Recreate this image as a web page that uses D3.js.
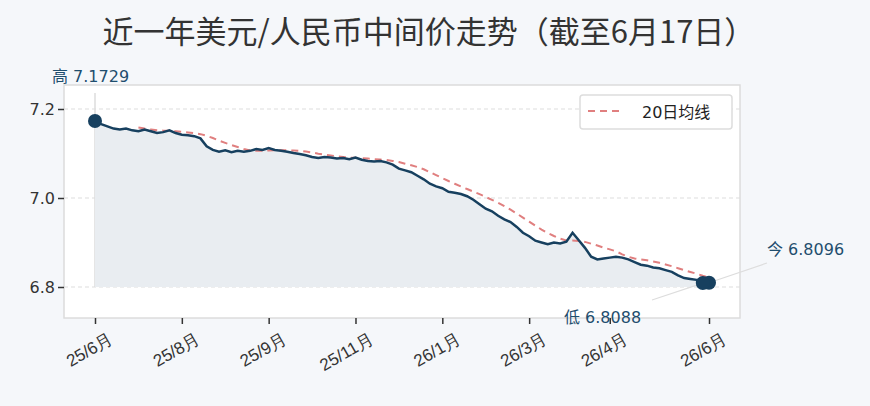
<!DOCTYPE html><html><head><meta charset="utf-8"><script src="https://cdn.jsdelivr.net/npm/d3@7"></script>
<style>body{margin:0;background:#f5f7fa;font-family:"DejaVu Sans","Noto Sans CJK SC",sans-serif}</style></head><body><svg id="c" width="870" height="406"></svg>
<script>
const rates=[7.1729,7.166,7.161,7.156,7.154,7.156,7.152,7.150,7.154,7.150,7.146,7.148,7.152,7.146,7.142,7.141,7.139,7.134,7.116,7.108,7.104,7.107,7.103,7.106,7.104,7.106,7.110,7.108,7.112,7.108,7.106,7.104,7.101,7.099,7.096,7.092,7.090,7.092,7.091,7.089,7.090,7.087,7.091,7.086,7.083,7.082,7.083,7.080,7.075,7.066,7.062,7.058,7.050,7.042,7.032,7.026,7.022,7.014,7.012,7.009,7.004,6.996,6.986,6.976,6.970,6.960,6.952,6.946,6.935,6.922,6.914,6.904,6.900,6.896,6.900,6.898,6.902,6.922,6.905,6.888,6.868,6.862,6.864,6.866,6.868,6.866,6.862,6.856,6.850,6.848,6.844,6.842,6.838,6.834,6.826,6.820,6.818,6.816,6.8088,6.8096];
const tickIdx=[0,14,28,42,56,70,83,99];
const tickLabels=["25/6月","25/8月","25/9月","25/11月","26/1月","26/3月","26/4月","26/6月"];
const yTicks=[6.8,7.0,7.2];
const win=8;
const svg=d3.select("#c");
const L=64,R=740,T=85,B=318;
const x=d3.scaleLinear().domain([0,rates.length-1]).range([95,709]);
const y=d3.scaleLinear().domain([6.8,7.2]).range([287,109]);
svg.append("text").attr("x",429).attr("y",43).attr("text-anchor","middle").attr("font-size",31).attr("fill","#333").attr("font-family","Noto Sans CJK SC").text("近一年美元/人民币中间价走势（截至6月17日）");
svg.append("rect").attr("x",L).attr("y",T).attr("width",R-L).attr("height",B-T).attr("fill","#fff").attr("stroke","#dcdcdc").attr("stroke-width",1.5);
yTicks.forEach(t=>svg.append("line").attr("x1",L).attr("x2",R).attr("y1",y(t)).attr("y2",y(t)).attr("stroke","#ddd").attr("stroke-dasharray","4,3"));
const ya=svg.append("g").attr("transform",`translate(${L},0)`).call(d3.axisLeft(y).tickValues(yTicks).tickFormat(d3.format(".1f")).tickSize(6));
ya.select(".domain").remove();ya.selectAll("line").attr("stroke","#333").attr("stroke-width",1.5);
ya.selectAll("text").attr("font-size",16).attr("fill","#333").attr("font-family","DejaVu Sans");
const xa=svg.append("g").attr("transform",`translate(0,${B})`).call(d3.axisBottom(x).tickValues(tickIdx).tickFormat((d,i)=>tickLabels[i]).tickSize(6));
xa.select(".domain").remove();xa.selectAll("line").attr("stroke","#333").attr("stroke-width",1.5);
xa.selectAll("text").attr("font-size",17).attr("fill","#333").attr("text-anchor","end").attr("transform","translate(8,6) rotate(-30)");
svg.append("line").attr("x1",x(0)).attr("x2",x(0)).attr("y1",T+8).attr("y2",y(6.8)).attr("stroke","#ddd").attr("stroke-width",1.5);
svg.append("path").datum(rates).attr("d",d3.area().x((d,i)=>x(i)).y0(y(6.8)).y1(d=>y(d))).attr("fill","#e9edf1");
const ma=rates.map((d,i)=>i<win-1?null:d3.mean(rates.slice(i-win+1,i+1)));
svg.append("path").datum(ma).attr("d",d3.line().defined(d=>d!==null).x((d,i)=>x(i)).y(d=>y(d))).attr("fill","none").attr("stroke","#e07f7f").attr("stroke-width",2).attr("stroke-dasharray","7,5");
svg.append("path").datum(rates).attr("d",d3.line().x((d,i)=>x(i)).y(d=>y(d))).attr("fill","none").attr("stroke","#17405f").attr("stroke-width",2.5);
const n=rates.length-1;
const lowI=rates.indexOf(d3.min(rates));
svg.append("line").attr("x1",x(n)).attr("y1",y(rates[n])).attr("x2",767).attr("y2",263).attr("stroke","#ddd").attr("stroke-width",1.2);
svg.append("line").attr("x1",x(lowI)).attr("y1",y(rates[lowI])).attr("x2",652).attr("y2",300).attr("stroke","#ddd").attr("stroke-width",1.2);
[0,n].forEach(i=>svg.append("circle").attr("cx",x(i)).attr("cy",y(rates[i])).attr("r",7).attr("fill","#17405f"));
svg.append("circle").attr("cx",x(lowI)).attr("cy",y(rates[lowI])).attr("r",7).attr("fill","#17405f");
svg.append("text").attr("x",52).attr("y",82).attr("font-size",16).attr("fill","#1f4e6e").text("高 "+d3.max(rates).toFixed(4));
svg.append("text").attr("x",767).attr("y",255).attr("font-size",16).attr("fill","#1f4e6e").text("今 "+rates[n].toFixed(4));
svg.append("text").attr("x",564).attr("y",323).attr("font-size",16).attr("fill","#1f4e6e").text("低 "+d3.min(rates).toFixed(4));
const lg=svg.append("g");
lg.append("rect").attr("x",580).attr("y",95).attr("width",152).attr("height",34).attr("rx",3).attr("fill","#fff").attr("stroke","#ddd").attr("stroke-width",1.5);
lg.append("line").attr("x1",588).attr("x2",624).attr("y1",111).attr("y2",111).attr("stroke","#e07f7f").attr("stroke-width",2).attr("stroke-dasharray","7,5");
lg.append("text").attr("x",642).attr("y",118).attr("font-size",16).attr("fill","#222").text("20日均线");
</script></body></html>
